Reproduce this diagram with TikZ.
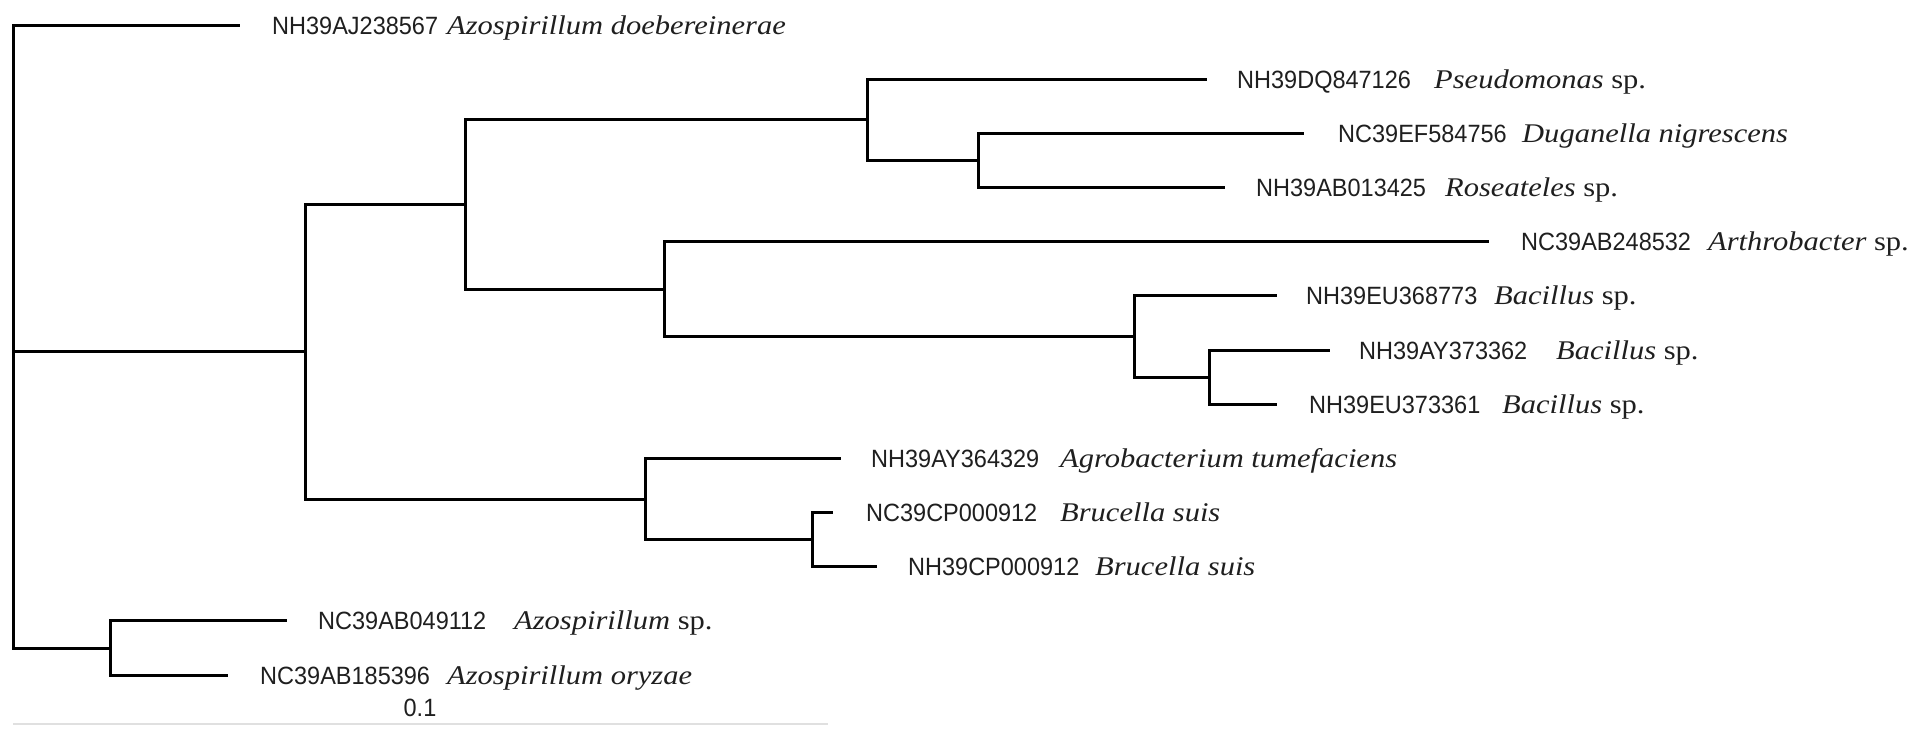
\documentclass[tikz,border=0pt]{standalone}
\usepackage{fontspec}
\newfontfamily\accfam{Liberation Sans}[FakeStretch=0.94]
\newfontfamily\spfam{Liberation Serif}[FakeStretch=1.13]
\begin{document}
\begin{tikzpicture}[x=1pt,y=-1pt,
  br/.style={line width=3pt,line join=miter,black},
  acc/.style={anchor=base west,inner sep=0pt,font=\accfam\fontsize{25}{29}\selectfont,text=black!88},
  spn/.style={anchor=base west,inner sep=0pt,font=\spfam\fontsize{27}{31}\selectfont,text=black!88},
  sbar/.style={line width=1.5pt,black!12}]
\useasboundingbox (0,0) rectangle (1932,728);
% internal nodes
\coordinate (root) at (13,351.7);
\coordinate (nA) at (305,351.7);
\coordinate (nB) at (465,204.5);
\coordinate (nC) at (867,119.8);
\coordinate (nD) at (978,160.4);
\coordinate (nE) at (664,289.1);
\coordinate (nF) at (1134,336.5);
\coordinate (nG) at (1209,377.1);
\coordinate (nH) at (645,499.0);
\coordinate (nI) at (812,539.6);
\coordinate (nJ) at (110,648.0);
% leaf tips
\coordinate (t0) at (240,25.0);
\coordinate (t1) at (1207,79.2);
\coordinate (t2) at (1304,133.3);
\coordinate (t3) at (1225,187.5);
\coordinate (t4) at (1489,241.7);
\coordinate (t5) at (1277,295.9);
\coordinate (t6) at (1330,350.0);
\coordinate (t7) at (1277,404.2);
\coordinate (t8) at (841,458.4);
\coordinate (t9) at (833,512.5);
\coordinate (t10) at (877,566.7);
\coordinate (t11) at (287,620.9);
\coordinate (t12) at (228,675.0);
% branches
\draw[br] (root) |- (t0);
\draw[br] (root) |- (nA);
\draw[br] (root) |- (nJ);
\draw[br] (nA) |- (nB);
\draw[br] (nA) |- (nH);
\draw[br] (nB) |- (nC);
\draw[br] (nB) |- (nE);
\draw[br] (nC) |- (t1);
\draw[br] (nC) |- (nD);
\draw[br] (nD) |- (t2);
\draw[br] (nD) |- (t3);
\draw[br] (nE) |- (t4);
\draw[br] (nE) |- (nF);
\draw[br] (nF) |- (t5);
\draw[br] (nF) |- (nG);
\draw[br] (nG) |- (t6);
\draw[br] (nG) |- (t7);
\draw[br] (nH) |- (t8);
\draw[br] (nH) |- (nI);
\draw[br] (nI) |- (t9);
\draw[br] (nI) |- (t10);
\draw[br] (nJ) |- (t11);
\draw[br] (nJ) |- (t12);
% labels
\node[acc] (a0) at (272,34) {NH39AJ238567};
\node[spn] (s0) at (447,34) {\itshape Azospirillum doebereinerae};
\node[acc] (a1) at (1237,88.2) {NH39DQ847126};
\node[spn] (s1) at (1434,88.2) {\textit{Pseudomonas} sp.};
\node[acc] (a2) at (1338,142.3) {NC39EF584756};
\node[spn] (s2) at (1522,142.3) {\itshape Duganella nigrescens};
\node[acc] (a3) at (1256,196.5) {NH39AB013425};
\node[spn] (s3) at (1445,196.5) {\textit{Roseateles} sp.};
\node[acc] (a4) at (1521,250.7) {NC39AB248532};
\node[spn] (s4) at (1708,250.7) {\textit{Arthrobacter} sp.};
\node[acc] (a5) at (1306,304.9) {NH39EU368773};
\node[spn] (s5) at (1494,304.9) {\textit{Bacillus} sp.};
\node[acc] (a6) at (1359,359.0) {NH39AY373362};
\node[spn] (s6) at (1556,359.0) {\textit{Bacillus} sp.};
\node[acc] (a7) at (1309,413.2) {NH39EU373361};
\node[spn] (s7) at (1502,413.2) {\textit{Bacillus} sp.};
\node[acc] (a8) at (871,467.4) {NH39AY364329};
\node[spn] (s8) at (1060,467.4) {\itshape Agrobacterium tumefaciens};
\node[acc] (a9) at (866,521.5) {NC39CP000912};
\node[spn] (s9) at (1060,521.5) {\itshape Brucella suis};
\node[acc] (a10) at (908,575.7) {NH39CP000912};
\node[spn] (s10) at (1095,575.7) {\itshape Brucella suis};
\node[acc] (a11) at (318,629.9) {NC39AB049112};
\node[spn] (s11) at (514,629.9) {\textit{Azospirillum} sp.};
\node[acc] (a12) at (260,684.0) {NC39AB185396};
\node[spn] (s12) at (447,684.0) {\itshape Azospirillum oryzae};
% scale bar
\node[acc,anchor=base] (sl) at (420,716.5) {0.1};
\coordinate (sb1) at (13,724);
\coordinate (sb2) at (828,724);
\draw[sbar] (sb1) -- (sb2);
\end{tikzpicture}
\end{document}
